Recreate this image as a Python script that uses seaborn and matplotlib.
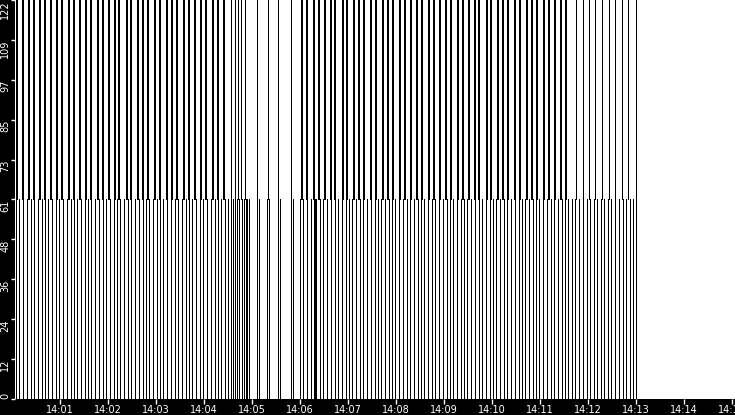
import seaborn as sns
import matplotlib.pyplot as plt
import pandas as pd
import numpy as np

# event times in seconds after 14:00:00
# upper lane (61..122): wide and thin marks
top_wide = [6, 13, 21, 27, 35, 41, 49, 56, 62, 71, 77, 85, 92, 98, 107, 113, 121, 128, 134, 143,
            149, 157, 164, 170, 179, 185, 193, 200, 206, 215, 221, 229, 236, 242, 251, 257, 265,
            362, 369, 377, 383, 391, 398, 404, 413, 419, 427, 434, 440, 449, 455, 463, 470, 476,
            485, 491, 499, 506, 512, 521, 527, 535, 542, 548, 557, 563, 571, 578, 584, 593, 599,
            607, 614, 620, 629, 635, 643, 650, 656, 665, 671, 679, 686, 692]
top_thin = [273, 278, 282, 286, 291, 306, 320, 332, 349,
            705, 713, 721, 729, 737, 746, 754, 762, 770, 780]
# lower lane (0..61)
bottom = [5, 9, 14, 19, 23, 27, 32, 37, 41, 45, 50, 55, 59, 63, 68, 73, 77, 81, 86, 91, 95, 99,
          104, 109, 113, 117, 122, 127, 131, 135, 140, 145, 149, 153, 158, 163, 167, 171, 176, 181,
          185, 189, 194, 199, 203, 207, 212, 217, 221, 225, 230, 235, 239, 243, 248, 253, 257, 261,
          266, 270, 273, 276, 279, 281, 284, 287, 290, 292, 294, 296,
          306, 309, 318, 321, 332, 335, 348, 351,
          360, 364, 368, 373, 377, 378, 379, 380, 385, 389, 394, 398, 403, 407, 412, 417, 421, 425,
          430, 435, 439, 443, 448, 453, 457, 461, 466, 471, 475, 479, 484, 489, 493, 497, 502, 507,
          511, 515, 520, 525, 529, 533, 538, 543, 547, 551, 556, 561, 565, 569, 574, 579, 583, 587,
          592, 597, 601, 605, 610, 615, 619, 623, 628, 633, 637, 641, 646, 651, 655, 659, 664, 669,
          673, 677, 682, 687, 691, 695,
          700, 704, 709, 713, 718, 722, 727, 731, 736, 740, 745, 749, 754, 758, 763, 767, 772, 776, 780]

x_ticks = [60, 120, 180, 240, 300, 360, 420, 480, 540, 600, 660, 720, 780, 840, 900]
x_labels = ["14:01", "14:02", "14:03", "14:04", "14:05", "14:06", "14:07", "14:08",
            "14:09", "14:10", "14:11", "14:12", "14:13", "14:14", "14:15"]
y_ticks = [0, 12.2, 24.4, 36.6, 48.8, 61, 73.2, 85.4, 97.6, 109.8, 122]
y_labels = ["0", "12", "24", "36", "48", "61", "73", "85", "97", "109", "122"]

sns.set_style("white")
plt.rcParams["font.family"] = ["DejaVu Sans"]

fig = plt.figure(figsize=(7.35, 4.15), dpi=100, facecolor="black")
ax = fig.add_axes([15 / 735, 16 / 415, 720 / 735, 399 / 415])
ax.set_facecolor("white")


def lane(times, y0, y1, lw):
    n = len(times)
    df = pd.DataFrame({"ev": np.repeat(np.arange(n), 2),
                       "t": np.repeat(times, 2),
                       "v": np.tile([y0, y1], n)})
    sns.lineplot(data=df, x="t", y="v", units="ev", estimator=None, sort=False,
                 color="black", linewidth=lw, antialiased=False, legend=False, ax=ax)


lane(bottom, 0, 61, 0.6)
lane(top_thin, 61, 122, 0.6)
lane(top_wide, 61, 122, 1.3)

ax.set_xlim(3.4, 903.4)
ax.set_ylim(0, 122)
ax.set(xlabel="", ylabel="")
for s in ax.spines.values():
    s.set_visible(False)

ax.set_xticks(x_ticks)
ax.set_xticklabels(x_labels)
ax.set_yticks(y_ticks)
ax.set_yticklabels(y_labels)
ax.tick_params(axis="both", colors="white", labelsize=7, direction="out", width=1)
ax.tick_params(axis="x", bottom=True, length=3.6, pad=1)
ax.tick_params(axis="y", left=True, length=3, pad=0.5)
for lab in ax.get_yticklabels():
    lab.set_rotation(90)
    lab.set_va("bottom" if lab.get_text() == "0" else "top")

fig.savefig("out.png", dpi=100, facecolor="black")
